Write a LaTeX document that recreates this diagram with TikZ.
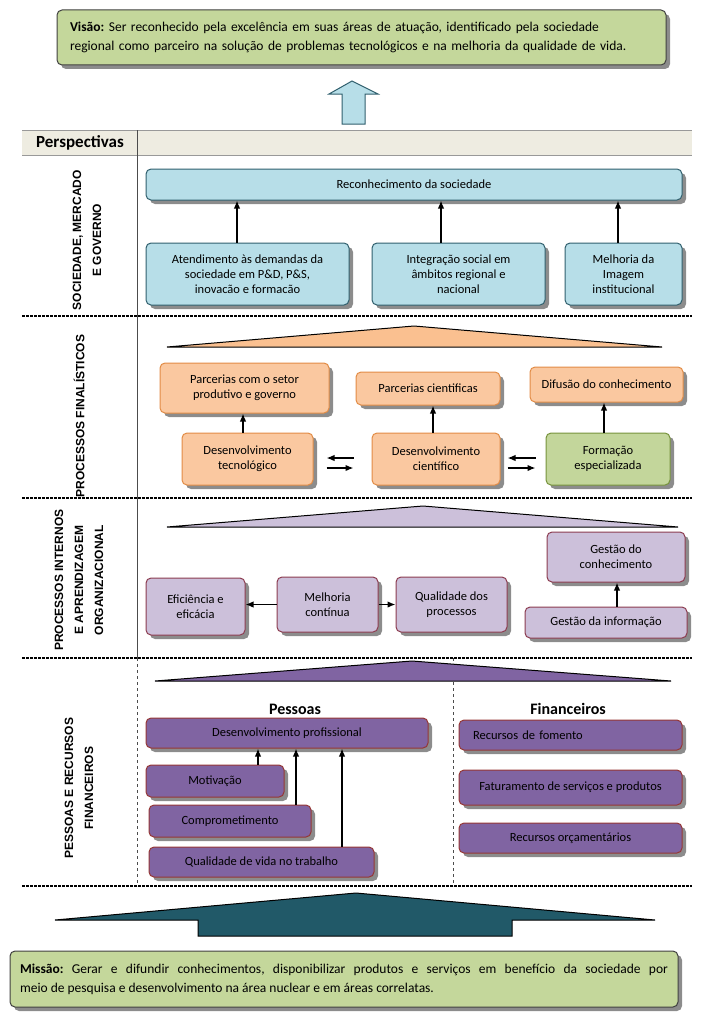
\documentclass[tikz,border=0pt]{standalone}
\usepackage{fontspec}
\setmainfont{Carlito}
\newfontfamily\labelfont{Liberation Sans}
\usepackage{tikz}
\usetikzlibrary{shapes,arrows,arrows.meta,positioning,calc,shadows}
\usepackage{xcolor}
\frenchspacing
\definecolor{visiongreen}{RGB}{196,215,155}
\definecolor{lightblue}{RGB}{183,222,232}
\definecolor{blueborder}{RGB}{49,96,110}
\definecolor{lightorange}{RGB}{250,200,160}
\definecolor{triorange}{RGB}{250,192,144}
\definecolor{orangeborder}{RGB}{226,140,70}
\definecolor{formgreen}{RGB}{195,214,155}
\definecolor{formborder}{RGB}{119,147,60}
\definecolor{lavender}{RGB}{204,192,218}
\definecolor{lavborder}{RGB}{140,60,80}
\definecolor{purplebox}{RGB}{128,100,162}
\definecolor{purpleborder}{RGB}{150,55,53}
\definecolor{darkteal}{RGB}{33,89,104}
\definecolor{headerbeige}{RGB}{238,236,225}
\tikzset{
    basebox/.style={
        rectangle,
        rounded corners=5pt,
        draw,
        line width=1pt,
        align=center,
        inner sep=2pt,
        font=\fontsize{12.5}{15}\selectfont,
        drop shadow={shadow xshift=4pt,shadow yshift=-4pt,fill=black,opacity=0.45}
    },
    statementbox/.style={
        basebox,
        fill=visiongreen,
        draw=black!75,
        align=left,
        inner xsep=13pt,
        font=\fontsize{13.5}{19}\selectfont
    },
    socbox/.style={
        basebox,
        fill=lightblue,
        draw=blueborder
    },
    finbox/.style={
        basebox,
        fill=lightorange,
        draw=orangeborder
    },
    formbox/.style={
        basebox,
        fill=formgreen,
        draw=formborder
    },
    intbox/.style={
        basebox,
        fill=lavender,
        draw=lavborder
    },
    pesbox/.style={
        basebox,
        fill=purplebox,
        draw=purpleborder
    },
    roof/.style={
        draw=black,
        line width=1pt
    },
    arr/.style={
        -{Latex[length=8pt,width=6.5pt]},
        line width=1.4pt
    },
    sectionline/.style={
        line width=1.2pt,
        dash pattern=on 3pt off 1pt
    },
    perspective/.style={
        rotate=90,
        align=center,
        font=\labelfont\bfseries\fontsize{12}{20}\selectfont
    },
    groupname/.style={
        font=\bfseries\fontsize{16}{18}\selectfont
    }
}

\begin{document}
\begin{tikzpicture}[x=1pt,y=-1pt]
        \useasboundingbox (0,0) rectangle (704,1025);

        % Vision
        \node[statementbox,minimum width=609pt,minimum height=55pt,text width=583pt] (visao) at (361.5,37.5)
            {\textbf{Visão:} Ser reconhecido pela excelência em suas áreas de atuação, identificado pela sociedade\\regional como parceiro na solução de problemas tecnológicos e na melhoria da qualidade de vida.};
        \draw[fill=lightblue,draw=blueborder,line width=1pt] (352,81) -- (378,94) -- (365,94) -- (365,124)
            -- (342,124) -- (342,94) -- (329,94) -- cycle;

        % Header row and frame
        \fill[headerbeige] (22,130) rectangle (692,155);
        \draw[black!40] (22,130) -- (692,130);
        \draw[black!40] (22,155) -- (692,155);
        \node[font=\bfseries\fontsize{17}{19}\selectfont] (persp) at (80,142.5) {Perspectivas};
        \draw[black!70] (137,130) -- (137,658);
        \draw[black!70,dashed] (137,658) -- (137,886);
        \draw[black!70,dashed] (453,658) -- (453,886);
        \draw[sectionline] (22,316) -- (692,316);
        \draw[sectionline] (22,498) -- (692,498);
        \draw[sectionline] (22,658) -- (692,658);
        \draw[sectionline] (22,886) -- (692,886);

        % Sociedade, mercado e governo
        \node[perspective] (lsoc) at (87,240) {SOCIEDADE, MERCADO\\E GOVERNO};
        \node[socbox,minimum width=536pt,minimum height=31pt] (recon) at (414,184.5) {Reconhecimento da sociedade};
        \node[socbox,minimum width=203pt,minimum height=62pt] (atend) at (247.5,274)
            {Atendimento às demandas da\\sociedade em P\&D, P\&S,\\inovacão e formacão};
        \node[socbox,minimum width=173pt,minimum height=62pt] (integ) at (458.5,274)
            {Integração social em\\âmbitos regional e\\nacional};
        \node[socbox,minimum width=117pt,minimum height=62pt] (imagem) at (623.5,274)
            {Melhoria da\\Imagem\\institucional};
        \draw[arr] ([xshift=-10.5pt]atend.north) -- ([xshift=-10.5pt]atend.north |- recon.south);
        \draw[arr] ([xshift=-17.5pt]integ.north) -- ([xshift=-17.5pt]integ.north |- recon.south);
        \draw[arr] ([xshift=-5.5pt]imagem.north) -- ([xshift=-5.5pt]imagem.north |- recon.south);

        % Processos finalisticos
        \node[perspective] (lfin) at (79,416) {PROCESSOS FINALÍSTICOS};
        \draw[roof,fill=triorange] (167,347) -- (414,326) -- (662,347) -- cycle;
        \node[finbox,minimum width=169pt,minimum height=50pt] (parcsetor) at (244.5,388)
            {Parcerias com o setor\\produtivo e governo};
        \node[finbox,minimum width=144pt,minimum height=33pt] (parccient) at (428,388.5) {Parcerias cientificas};
        \node[finbox,minimum width=153pt,minimum height=35pt] (difusao) at (606.5,384.5) {Difusão do conhecimento};
        \node[finbox,minimum width=131pt,minimum height=52pt] (destec) at (247.5,459) {Desenvolvimento\\tecnológico};
        \node[finbox,minimum width=128pt,minimum height=52pt] (descient) at (436,459) {Desenvolvimento\\científico};
        \node[formbox,minimum width=124pt,minimum height=52pt] (formacao) at (608,459) {Formação\\especializada};
        \draw[arr] ([xshift=-4.5pt]destec.north) -- ([xshift=-4.5pt]destec.north |- parcsetor.south);
        \draw[arr] ([xshift=-3pt]descient.north) -- ([xshift=-3pt]descient.north |- parccient.south);
        \draw[arr] ([xshift=-4pt]formacao.north) -- ([xshift=-4pt]formacao.north |- difusao.south);
        \draw[arr,shorten <=18pt,shorten >=13pt] ([yshift=1pt]descient.west) -- ([yshift=1pt]descient.west -| destec.east);
        \draw[arr,shorten <=13pt,shorten >=18pt] ([yshift=-9pt]destec.east) -- ([yshift=-9pt]destec.east -| descient.west);
        \draw[arr,shorten <=10pt,shorten >=7pt] ([yshift=1pt]formacao.west) -- ([yshift=1pt]formacao.west -| descient.east);
        \draw[arr,shorten <=7pt,shorten >=10pt] ([yshift=-9pt]descient.east) -- ([yshift=-9pt]descient.east -| formacao.west);

        % Processos internos e aprendizagem organizacional
        \node[perspective] (lint) at (79,580) {PROCESSOS INTERNOS\\E APRENDIZAGEM\\ORGANIZACIONAL};
        \draw[roof,fill=lavender] (167,527) -- (423,506) -- (678,527) -- cycle;
        \node[intbox,minimum width=99pt,minimum height=57pt] (efic) at (195.5,606.5) {Eficiência e\\eficácia};
        \node[intbox,minimum width=101pt,minimum height=55pt] (melhoria) at (327.5,604.5) {Melhoria\\contínua};
        \node[intbox,minimum width=111pt,minimum height=55pt] (qualid) at (451.5,604.5) {Qualidade dos\\processos};
        \node[intbox,minimum width=138pt,minimum height=50pt] (gestconh) at (616,557) {Gestão do\\conhecimento};
        \node[intbox,minimum width=162pt,minimum height=31pt] (gestinfo) at (606,622.5) {Gestão da informação};
        \draw[arr] (melhoria.west) -- (efic.east |- melhoria.west);
        \draw[arr] (melhoria.east) -- (qualid.west |- melhoria.east);
        \draw[arr] ([xshift=11pt]gestinfo.north) -- ([xshift=11pt]gestinfo.north |- gestconh.south);

        % Pessoas e recursos financeiros
        \node[perspective] (lpes) at (79,788) {PESSOAS E RECURSOS\\FINANCEIROS};
        \draw[roof,fill=purplebox] (155,681) -- (412,661) -- (671,681) -- cycle;
        \node[groupname] (pessoas) at (295,709) {Pessoas};
        \node[groupname] (financ) at (568,709) {Financeiros};
        \node[pesbox,minimum width=282pt,minimum height=30pt] (desprof) at (287,733) {Desenvolvimento profissional};
        \node[pesbox,minimum width=138pt,minimum height=32pt] (motiv) at (215,781) {Motivação};
        \node[pesbox,minimum width=162pt,minimum height=32pt] (compr) at (230,821) {Comprometimento};
        \node[pesbox,minimum width=225pt,minimum height=30pt] (qualvida) at (261.5,862) {Qualidade de vida no trabalho};
        \draw[arr] ([xshift=43pt]motiv.north) -- ([xshift=43pt]motiv.north |- desprof.south);
        \draw[arr] ([xshift=66pt]compr.north) -- ([xshift=66pt]compr.north |- desprof.south);
        \draw[arr] ([xshift=80.5pt]qualvida.north) -- ([xshift=80.5pt]qualvida.north |- desprof.south);
        \node[pesbox,minimum width=223pt,minimum height=30pt,text width=195pt,align=left] (fomento) at (570.5,735) {Recursos de fomento};
        \node[pesbox,minimum width=223pt,minimum height=35pt] (fatur) at (570.5,787.5) {Faturamento de serviços e produtos};
        \node[pesbox,minimum width=223pt,minimum height=30pt] (orcam) at (570.5,838) {Recursos orçamentários};

        % Mission
        \draw[roof,fill=darkteal] (55,920) -- (356,893) -- (655,920) -- (512,920) -- (512,936)
            -- (198,936) -- (198,920) -- cycle;
        \node[statementbox,minimum width=668pt,minimum height=56pt,text width=648pt,inner xsep=10pt,align=justify] (missao) at (344,979)
            {\textbf{Missão:} Gerar e difundir conhecimentos, disponibilizar produtos e serviços em benefício da sociedade por\linebreak meio de pesquisa e desenvolvimento na área nuclear e em áreas correlatas.};
    \end{tikzpicture}
\end{document}
